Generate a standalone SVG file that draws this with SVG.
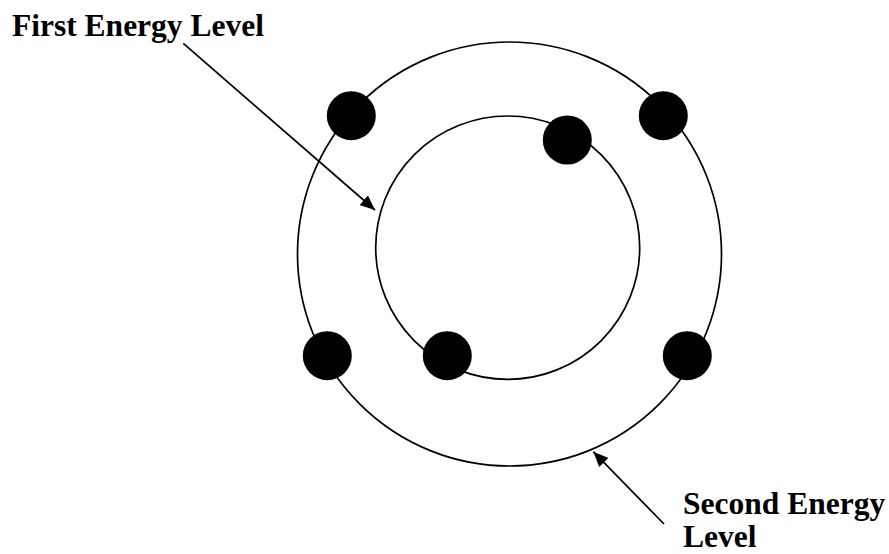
<svg xmlns="http://www.w3.org/2000/svg" width="889" height="554" viewBox="0 0 889 554">
<defs>
<style>
.orbit{fill:none;stroke:#000;stroke-width:1.7}
.e{fill:#000}
.lbl{font-family:"Liberation Serif","Times New Roman",serif;font-weight:bold;font-size:31.5px;fill:#000}
.conn{stroke:#000;stroke-width:1.7;fill:none}
</style>
<marker id="ah" viewBox="0 0 14 12" refX="14" refY="6" markerWidth="15" markerHeight="13" markerUnits="userSpaceOnUse" orient="auto">
<path d="M0,0 L14,6 L0,12 z" fill="#000"/>
</marker>
</defs>
<rect width="889" height="554" fill="#fff"/>
<g id="outer-orbit"><ellipse class="orbit" cx="509.5" cy="254" rx="212" ry="212"/></g>
<g id="inner-orbit"><ellipse class="orbit" cx="507.7" cy="247.7" rx="132" ry="131.7"/></g>
<g id="electrons">
<circle class="e" cx="351.3" cy="115.7" r="24.5"/>
<circle class="e" cx="663.3" cy="115.7" r="24.5"/>
<circle class="e" cx="567.3" cy="140" r="24.5"/>
<circle class="e" cx="327.3" cy="355.7" r="24.5"/>
<circle class="e" cx="447.3" cy="355.7" r="24.5"/>
<circle class="e" cx="687.3" cy="355.7" r="24.5"/>
</g>
<g id="label-first"><text class="lbl" x="12" y="36">First Energy Level</text></g>
<g id="label-second"><text class="lbl" x="683" y="514">Second Energy</text><text class="lbl" x="683" y="547">Level</text></g>
<g id="connectors">
<line class="conn" x1="183.3" y1="43.3" x2="375" y2="210" marker-end="url(#ah)"/>
<line class="conn" x1="664" y1="524" x2="593.3" y2="451.7" marker-end="url(#ah)"/>
</g>
</svg>
